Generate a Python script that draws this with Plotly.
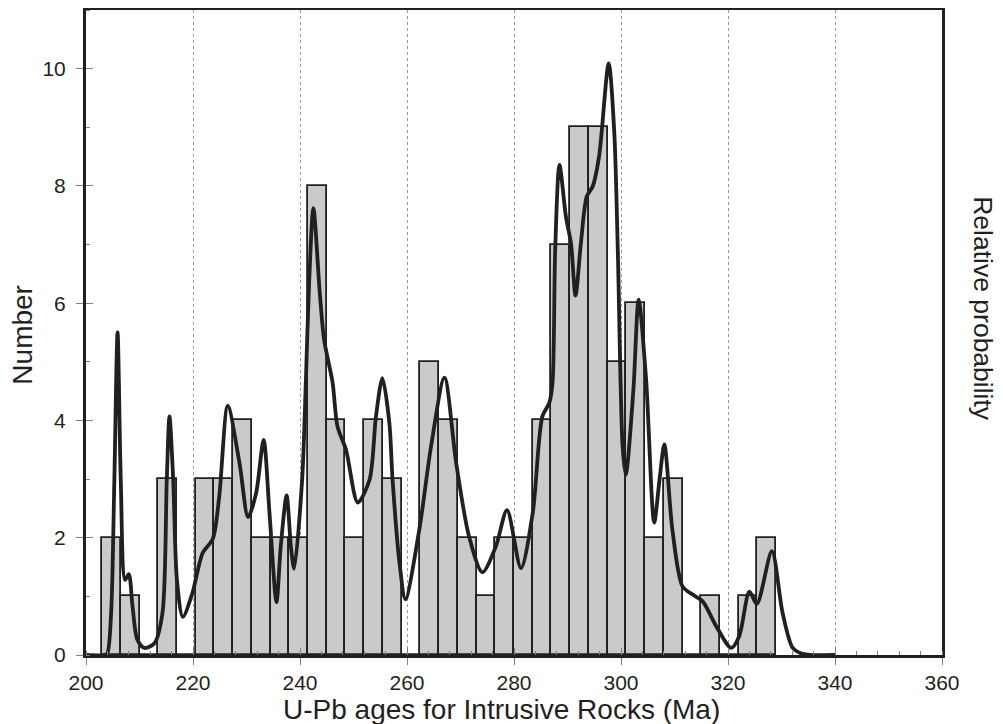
import plotly.graph_objects as go

# Histogram bins (left edge, Ma) and counts
bin_left = [203.0, 206.5, 210.0, 213.5, 217.0, 220.5, 224.0, 227.5, 231.0, 234.5,
            238.0, 241.5, 245.0, 248.5, 252.0, 255.5, 259.0, 262.5, 266.0, 269.5,
            273.0, 276.5, 280.0, 283.5, 287.0, 290.5, 294.0, 297.5, 301.0, 304.5,
            308.0, 311.5, 315.0, 318.5, 322.0, 325.5]
bin_count = [2, 1, 0, 3, 0, 3, 3, 4, 2, 2,
             2, 8, 4, 2, 4, 3, 0, 5, 4, 2,
             1, 2, 2, 4, 7, 9, 9, 5, 6, 2,
             3, 0, 1, 0, 1, 2]
bin_width = 3.5

# Relative probability curve (in "Number" axis units)
curve_age = [200, 203.5, 204.0, 204.7, 205.3, 205.9, 206.5, 207.3, 208.0, 208.7,
             209.6, 210.9, 212.8, 214.3, 215.1, 215.6, 216.3, 217.0, 218.1, 219.9,
             221.8, 223.7, 224.9, 226.5, 228.7, 230.3, 231.8, 233.2, 234.3, 235.6,
             236.4, 237.5, 238.3, 238.9, 240.4, 241.1, 241.7, 242.5, 243.7, 244.5,
             246.1, 247.0, 248.6, 250.8, 253.0, 254.2, 255.4, 256.7, 257.3, 258.6,
             259.7, 262.3, 264.5, 267.0, 269.2, 271.6, 274.1, 276.6, 278.7, 281.3,
             283.5, 285.3, 286.6, 287.2, 287.7, 288.5, 289.7, 290.65, 291.5, 292.5,
             293.6, 294.7, 295.9, 297.7, 298.75, 299.4, 300.3, 300.9, 302.3, 303.3,
             304.7, 306.2, 307.2, 308.1, 309.6, 311.5, 313.4, 315.3, 317.8, 320.6,
             322.1, 324.0, 325.4, 328.2, 330.2, 332.1, 333.9, 340]
curve_prob = [0, 0, 0.03, 0.72, 2.99, 5.5, 2.99, 1.28, 1.38, 0.83,
              0.26, 0.12, 0.2, 0.72, 2.99, 4.07, 2.99, 1.28, 0.65, 1.06,
              1.74, 1.98, 2.70, 4.25, 3.27, 2.35, 2.76, 3.67, 2.42, 0.90,
              1.85, 2.72, 1.85, 1.47, 2.99, 4.69, 6.34, 7.62, 6.17, 5.38,
              4.64, 3.90, 3.50, 2.60, 2.99, 4.07, 4.72, 3.96, 2.99, 1.57,
              0.95, 2.14, 3.56, 4.73, 3.27, 2.02, 1.41, 1.85, 2.47, 1.48,
              2.42, 4.07, 4.30, 4.64, 6.91, 8.36, 7.48, 7.02, 6.13, 7.02,
              7.82, 7.99, 8.50, 10.09, 8.90, 6.91, 3.56, 3.07, 4.5, 6.06,
              4.69, 2.26, 2.99, 3.59, 2.14, 1.17, 1.03, 0.91, 0.49, 0.12,
              0.32, 1.08, 0.87, 1.77, 0.72, 0.12, 0.02, 0]

x_ticks = [200, 220, 240, 260, 280, 300, 320, 340, 360]
y_ticks = [0, 2, 4, 6, 8, 10]

INK = "#231f20"
TICKC = "#808080"
FONT = "Liberation Sans, Arial, sans-serif"

fig = go.Figure()

fig.add_trace(go.Bar(
    x=[l + bin_width / 2 for l in bin_left], y=bin_count, width=bin_width,
    marker=dict(color="#c9cacc", line=dict(color=INK, width=1.8)),
    showlegend=False, hoverinfo="skip"))

fig.add_trace(go.Scatter(
    x=curve_age, y=curve_prob, mode="lines", yaxis="y2",
    line=dict(color=INK, width=3.8, shape="spline", smoothing=0.8),
    showlegend=False, hoverinfo="skip"))

# dummy trace to carry the inside-tick overlay axes
fig.add_trace(go.Scatter(x=[None], y=[None], xaxis="x2", yaxis="y3",
                         showlegend=False, hoverinfo="skip"))

fig.update_layout(
    width=995, height=716,
    margin=dict(l=78, r=61, t=2, b=69),
    paper_bgcolor="white", plot_bgcolor="white",
    font=dict(family=FONT, color=INK),
    bargap=0,
    xaxis=dict(range=[200, 360], tickvals=x_ticks, ticks="outside", ticklen=7,
               tickwidth=1, tickcolor=TICKC, showline=True, linecolor=INK,
               linewidth=3, mirror=True, showgrid=True, gridcolor="#9a9a9a",
               griddash="dot", gridwidth=1, zeroline=False,
               tickfont=dict(size=21, color=INK), automargin=False,
               minor=dict(dtick=4, tick0=200, ticks="inside", ticklen=4,
                          tickcolor=TICKC, showgrid=False)),
    yaxis=dict(range=[0, 11], tickvals=y_ticks, ticks="outside", ticklen=7,
               tickwidth=1, tickcolor=TICKC, showline=True, linecolor=INK,
               linewidth=3, mirror=True, showgrid=False, zeroline=False,
               tickfont=dict(size=21, color=INK), automargin=False,
               ticklabelstandoff=6,
               minor=dict(dtick=1, tick0=0, ticks="inside", ticklen=4,
                          tickcolor=TICKC, showgrid=False)),
    yaxis2=dict(range=[0, 11], overlaying="y", side="right", showticklabels=False,
                ticks="", showgrid=False, showline=False, zeroline=False),
    xaxis2=dict(range=[200, 360], overlaying="x", anchor="y", tickvals=x_ticks,
                ticks="inside", ticklen=7, tickcolor=TICKC, showticklabels=False,
                showgrid=False, showline=False, zeroline=False),
    yaxis3=dict(range=[0, 11], overlaying="y", anchor="x", tickvals=y_ticks,
                ticks="inside", ticklen=7, tickcolor=TICKC, showticklabels=False,
                showgrid=False, showline=False, zeroline=False),
    annotations=[
        dict(text="U-Pb ages for Intrusive Rocks (Ma)", xref="paper", yref="paper",
             x=0.4856, y=-0.084, xanchor="center", yanchor="middle",
             showarrow=False, font=dict(size=28, color=INK)),
        dict(text="Number", xref="paper", yref="paper", x=-0.0745, y=0.497,
             xanchor="center", yanchor="middle", textangle=-90, borderpad=0,
             showarrow=False, font=dict(size=28, color=INK)),
        dict(text="Relative probability", xref="paper", yref="paper", x=1.048,
             y=0.5375, xanchor="center", yanchor="middle", textangle=90,
             showarrow=False, font=dict(size=26.5, color=INK)),
    ],
)

fig.write_html("out.html")
